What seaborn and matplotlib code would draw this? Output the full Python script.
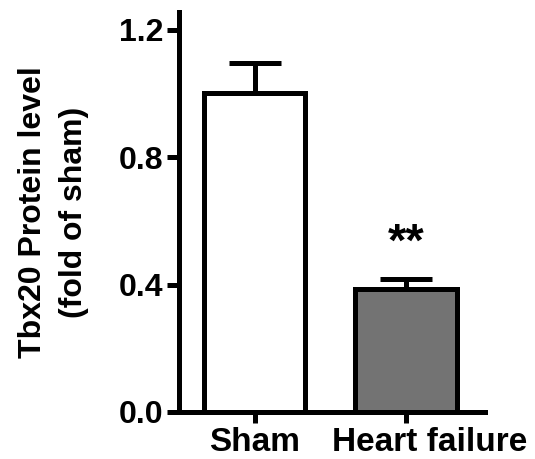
import matplotlib
matplotlib.use("Agg")
import matplotlib.pyplot as plt
import matplotlib.transforms as mtransforms
import seaborn as sns
import pandas as pd

groups = ["Sham", "Heart failure"]
means = [1.0, 0.386]
errors = [0.094, 0.031]
fills = ["#ffffff", "#737373"]
yticks = [0.0, 0.4, 0.8, 1.2]
ytick_labels = ["0.0", "0.4", "0.8", "1.2"]
ylabel = "Tbx20 Protein level\n(fold of sham)"
sig_label = "**"

sns.set_style("ticks")
plt.rcParams["font.family"] = ["Liberation Sans", "DejaVu Sans"]
plt.rcParams["font.weight"] = "bold"
plt.rcParams["text.color"] = "black"
plt.rcParams["axes.labelcolor"] = "black"
plt.rcParams["xtick.color"] = "black"
plt.rcParams["ytick.color"] = "black"
plt.rcParams["axes.edgecolor"] = "black"

df = pd.DataFrame({"group": groups, "mean": means})

fig = plt.figure(figsize=(5.35, 4.59), dpi=100)
ax = fig.add_axes([0.3346, 0.1024, 0.5719, 0.8715])

lw = 3.6
sns.barplot(data=df, x="group", y="mean", hue="group", palette=fills,
            width=0.67, edgecolor="black", linewidth=lw, legend=False,
            errorbar=None, ax=ax, zorder=3)

xs = list(range(len(groups)))
ax.errorbar(xs, means, yerr=[[0] * len(errors), errors], fmt="none",
            ecolor="black", elinewidth=lw, capsize=19, capthick=lw, zorder=2)

ax.text(1, means[1] + errors[1] + 0.11, sig_label, ha="center", va="center",
        fontsize=34, fontweight="bold", color="black")

ax.set_xlim(-0.5, 1.52)
ax.set_ylim(0, 1.255)
ax.set_yticks(yticks)
ax.set_yticklabels(ytick_labels)
ax.set_xlabel("")
ax.set_ylabel(ylabel, fontsize=23, fontweight="bold", labelpad=22,
              linespacing=1.45)
for s in ["left", "bottom"]:
    ax.spines[s].set_linewidth(lw)
    ax.spines[s].set_color("black")
ax.spines["top"].set_visible(False)
ax.spines["right"].set_visible(False)
ax.tick_params(axis="y", width=lw, length=9, labelsize=23, pad=2)
ax.tick_params(axis="x", width=lw, length=8, labelsize=24, pad=3)
for lab in ax.get_xticklabels() + ax.get_yticklabels():
    lab.set_fontweight("bold")
hf = ax.get_xticklabels()[1]
hf.set_transform(hf.get_transform() +
                 mtransforms.ScaledTranslation(0.23, 0, fig.dpi_scale_trans))

fig.savefig("out.png", dpi=100)
